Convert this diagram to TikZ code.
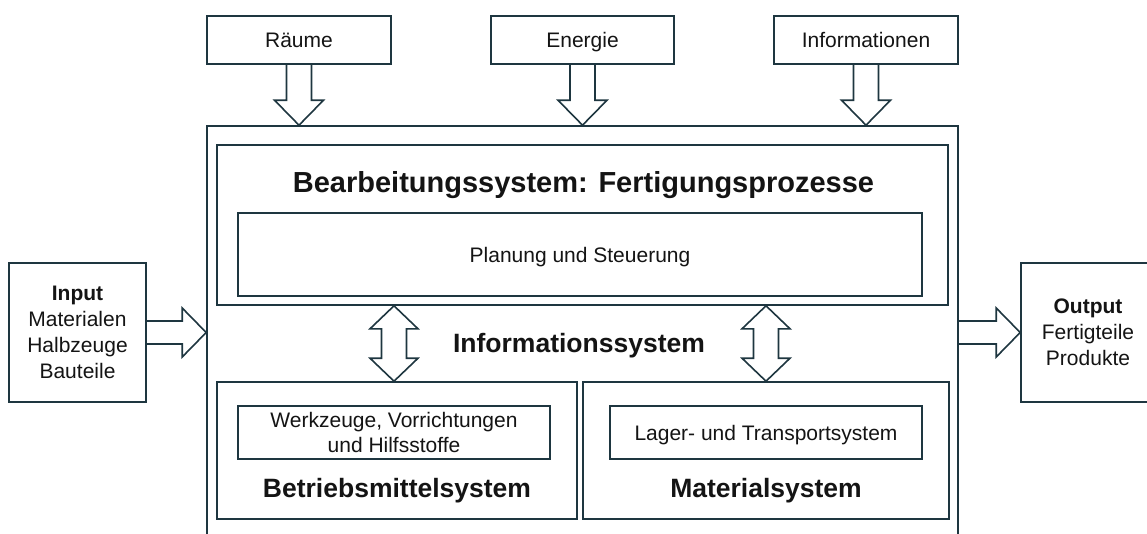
\documentclass[tikz,border=0pt]{standalone}
\usepackage{fontspec}
\setmainfont{Liberation Sans}
\usetikzlibrary{calc}
\definecolor{edge}{HTML}{1E3640}
\definecolor{ink}{HTML}{141414}

% hollow block arrow pointing down: from #1 (shaft start) to #2 (tip)
\newcommand\BlockDown[2]{%
  \draw[blockarrow] let \p1=(#1), \p2=(#2) in
    (\x1-12.5pt,\y1) -- (\x1-12.5pt,\y2+25pt) -- (\x1-24.5pt,\y2+25pt) --
    (\x2,\y2) -- (\x1+24.5pt,\y2+25pt) -- (\x1+12.5pt,\y2+25pt) -- (\x1+12.5pt,\y1);}
% hollow block arrow pointing right: from #1 (shaft start) to #2 (tip)
\newcommand\BlockRight[2]{%
  \draw[blockarrow] let \p1=(#1), \p2=(#2) in
    (\x1,\y1+11.5pt) -- (\x2-24pt,\y1+11.5pt) -- (\x2-24pt,\y1+24.5pt) --
    (\x2,\y2) -- (\x2-24pt,\y1-24.5pt) -- (\x2-24pt,\y1-11.5pt) -- (\x1,\y1-11.5pt);}
% hollow vertical double arrow: from tip #1 (top) to tip #2 (bottom)
\newcommand\BlockBoth[2]{%
  \draw[blockarrow] let \p1=(#1), \p2=(#2) in
    (\x1,\y1) -- (\x1+24pt,\y1-23pt) -- (\x1+12.5pt,\y1-23pt) --
    (\x1+12.5pt,\y2+23pt) -- (\x1+24pt,\y2+23pt) -- (\x2,\y2) --
    (\x1-24pt,\y2+23pt) -- (\x1-12.5pt,\y2+23pt) -- (\x1-12.5pt,\y1-23pt) --
    (\x1-24pt,\y1-23pt) -- cycle;}

\begin{document}
\begin{tikzpicture}[x=1pt,y=-1pt,
  box/.style={draw=edge, line width=1.6pt, rectangle, inner sep=0pt},
  lbl/.style={font=\fontsize{21}{26}\selectfont, text=ink},
  oneline/.style={text height=15pt, text depth=0pt},
  bigtitle/.style={font=\fontsize{29}{34}\selectfont\bfseries, text=ink},
  systitle/.style={font=\fontsize{26.5}{30}\selectfont\bfseries, text=ink},
  blockarrow/.style={draw=edge, line width=1.6pt, line join=miter}]
\useasboundingbox (0,0) rectangle (1147,533);
\fill[white] (0,0) rectangle (1147,533);
\clip (0,0) rectangle (1147,533);

% resources on top
\node[box, lbl, oneline, minimum width=184, minimum height=48] (raeume) at (299,40) {Räume};
\node[box, lbl, oneline, minimum width=183, minimum height=48] (energie) at (582.5,40) {Energie};
\node[box, lbl, oneline, minimum width=184, minimum height=48] (infos) at (866,40) {Informationen};

% production system frame
\node[box, minimum width=751, minimum height=419] (outer) at (582.5,335.5) {};
\node[box, minimum width=731, minimum height=160] (bearb) at (582.5,225) {};
\node[bigtitle, anchor=base] (bearbtitle) at (583.5,192) {Bearbeitungssystem: Fertigungsprozesse};
\node[box, lbl, oneline, minimum width=684, minimum height=83] (planung) at (580,254.5) {Planung und Steuerung};

\node[systitle, anchor=base] (infosys) at (579,352) {Informationssystem};

\node[box, minimum width=360, minimum height=137] (betrieb) at (397,450.5) {};
\node[box, lbl, align=center, font=\fontsize{21}{25}\selectfont, minimum width=312, minimum height=53] (werkzeuge) at (394,432.5) {Werkzeuge, Vorrichtungen\\und Hilfsstoffe};
\node[systitle, anchor=base] (betriebtitle) at (397,497) {Betriebsmittelsystem};

\node[box, minimum width=366, minimum height=137] (material) at (766,450.5) {};
\node[box, lbl, oneline, minimum width=312, minimum height=53] (lager) at (766,432.5) {Lager- und Transportsystem};
\node[systitle, anchor=base] (materialtitle) at (766,497) {Materialsystem};

% input and output
\node[box, lbl, align=center, minimum width=137, minimum height=139] (input) at (77.5,332.5)
  {\textbf{Input}\\Materialen\\Halbzeuge\\Bauteile};
\node[box, lbl, align=center, minimum width=134, minimum height=139] (output) at (1088,332.5)
  {\textbf{Output}\\Fertigteile\\Produkte};

% block arrows
\BlockDown{raeume.south}{raeume.south |- outer.north}
\BlockDown{energie.south}{energie.south |- outer.north}
\BlockDown{infos.south}{infos.south |- outer.north}
\BlockRight{input.east}{input.east -| outer.west}
\BlockRight{outer.east |- output.west}{output.west}
\BlockBoth{werkzeuge.north |- bearb.south}{werkzeuge.north |- betrieb.north}
\BlockBoth{material.north |- bearb.south}{material.north}
\end{tikzpicture}
\end{document}
